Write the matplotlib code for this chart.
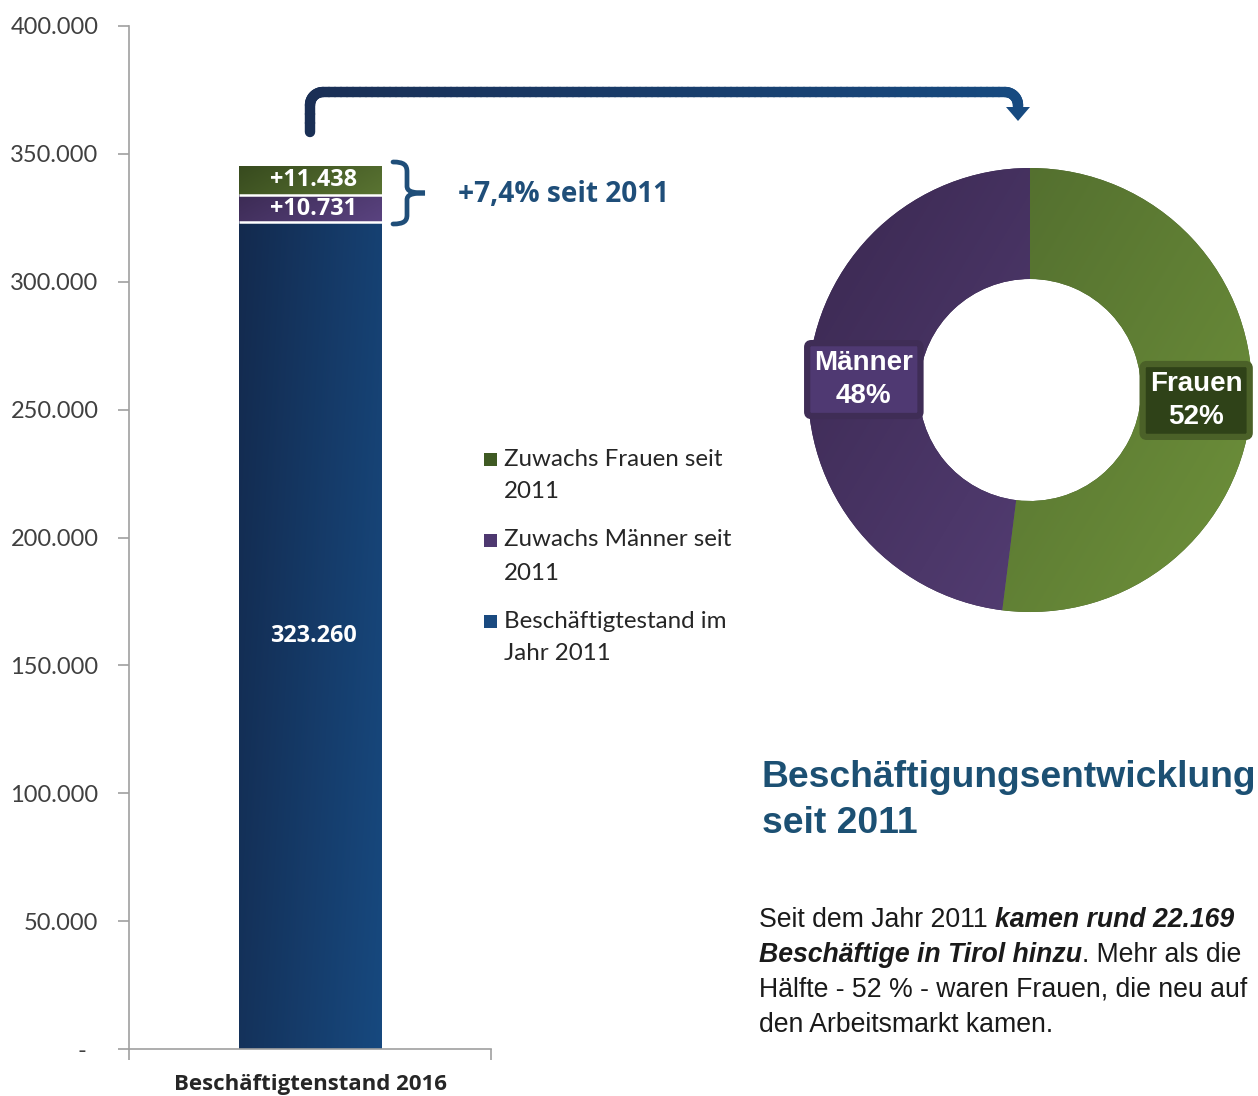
import numpy as np
import matplotlib.pyplot as plt
from matplotlib.path import Path
from matplotlib.patches import PathPatch, Rectangle
from matplotlib.collections import LineCollection
from matplotlib.colors import to_rgb

W, H = 1258, 1096

# daten
bar_category = "Beschäftigtenstand 2016"
bar_labels = ["Beschäftigtestand im\nJahr 2011", "Zuwachs Männer seit\n2011", "Zuwachs Frauen seit\n2011"]
bar_values = [323260, 10731, 11438]
bar_texts = ["323.260", "+10.731", "+11.438"]
yticks = [0, 50000, 100000, 150000, 200000, 250000, 300000, 350000, 400000]

pie_labels = ["Frauen", "Männer"]
pie_values = [52, 48]

growth_text = "+7,4% seit 2011"
title = "Beschäftigungsentwicklung\nseit 2011"
body = [
    [("Seit dem Jahr 2011 ", "normal"), ("kamen rund 22.169", "bi")],
    [("Beschäftige in Tirol hinzu", "bi"), (". Mehr als die", "normal")],
    [("Hälfte - 52 % - waren Frauen, die neu auf", "normal")],
    [("den Arbeitsmarkt kamen.", "normal")],
]

# farben (dunkel -> hell)
bar_cols = [("#132a4e", "#17497f"), ("#3c2b54", "#5a4380"), ("#374a1e", "#5a7432")]
legend_cols = ["#1a4a80", "#4e3870", "#3f5a23"]
pie_cols = [("#48612a", "#6f923b"), ("#3a2850", "#5e4682")]


def frac(x, y):
    return x / W, 1 - y / H


def gradient(ax, patch, c1, c2, extent, wx=1.0, wy=0.0, z=2):
    n = 200
    xx, yy = np.meshgrid(np.linspace(0, 1, n), np.linspace(0, 1, n))
    t = (wx * xx + wy * yy) / (abs(wx) + abs(wy))
    t = t - t.min()
    t = t / t.max()
    a, b = np.array(to_rgb(c1)), np.array(to_rgb(c2))
    rgb = a + (b - a) * t[..., None]
    im = ax.imshow(rgb, extent=extent, origin="lower", aspect="auto", zorder=z, interpolation="bilinear")
    im.set_clip_path(patch)
    return im


fig = plt.figure(figsize=(W / 100, H / 100), dpi=100)

# ---------- balken ----------
x0, y0 = frac(129, 1049)
x1, y1 = frac(491, 26)
ax = fig.add_axes([x0, y0, x1 - x0, y1 - y0])
bw = 143 / 362
bottoms = np.concatenate([[0], np.cumsum(bar_values)[:-1]])
bars = ax.bar([0] * len(bar_values), bar_values, bw, bottom=bottoms,
              color=[c[0] for c in bar_cols], zorder=2)
for p, (c1, c2) in zip(bars.patches, bar_cols):
    bx, by = p.get_x(), p.get_y()
    gradient(ax, p, c1, c2, (bx, bx + p.get_width(), by, by + p.get_height()), wx=1.0, wy=-0.35, z=2.5)
# weisse trennlinien
ax.hlines(np.cumsum(bar_values)[:-1], -bw / 2, bw / 2, color="white", lw=1.8, zorder=4)
for v, b, txt in zip(bar_values, bottoms, bar_texts):
    ax.text(0.01, b + v / 2, txt, ha="center", va="center", color="white",
            fontsize=16.8, fontweight="bold", family="Open Sans", zorder=5)

ax.set_xlim(-0.5, 0.5)
ax.set_ylim(0, 400000)
ax.set_yticks(yticks)
ax.set_yticklabels(["-  "] + [f"{v:,}".replace(",", ".") for v in yticks[1:]],
                   family="Lato", fontsize=17, color="#404040")
ax.tick_params(axis="y", length=8, pad=14, color="#a0a0a0", width=1.2)
ax.set_xticks([-0.5, 0.5])
ax.set_xticklabels(["", ""])
ax.tick_params(axis="x", which="major", length=8, color="#a0a0a0", width=1.2)
ax.set_xticks([0], minor=True)
ax.set_xticklabels([bar_category], minor=True, family="Open Sans", fontweight="bold",
                   fontsize=16, color="#262626")
ax.tick_params(axis="x", which="minor", length=0, pad=18)
for s in ["top", "right"]:
    ax.spines[s].set_visible(False)
for s in ["left", "bottom"]:
    ax.spines[s].set_color("#a0a0a0")
    ax.spines[s].set_linewidth(1.2)

# ---------- ring ----------
cx, cy, R = 1030, 390, 222
half = 240
px0, py0 = frac(cx - half, cy + half)
ax2 = fig.add_axes([px0, py0, 2 * half / W, 2 * half / H])
wedges, _ = ax2.pie(pie_values, startangle=90, counterclock=False, radius=1,
                    colors=[c[0] for c in pie_cols], wedgeprops=dict(width=0.5, linewidth=0))
for wdg, (c1, c2) in zip(wedges, pie_cols):
    gradient(ax2, wdg, c1, c2, (-1, 1, -1, 1), wx=1.0, wy=-0.6, z=3)
lim = half / R
ax2.set_xlim(-lim, lim)
ax2.set_ylim(-lim, lim)
ax2.set_aspect("equal")
ax2.axis("off")

box_style = [dict(fc="#2f4218", ec="#4b6128"), dict(fc="#4f3972", ec="#3f2d56")]
for wdg, lab, v, bs in zip(wedges, pie_labels, pie_values, box_style):
    ang = np.deg2rad((wdg.theta1 + wdg.theta2) / 2)
    ax2.text(0.75 * np.cos(ang), 0.75 * np.sin(ang), f"{lab}\n{v}%", ha="center", va="center",
             color="white", fontsize=20, fontweight="bold", family="Liberation Sans",
             linespacing=1.32, zorder=6,
             bbox=dict(boxstyle="round,pad=0.26,rounding_size=0.15", lw=4.5, **bs))

# ---------- overlay ----------
ov = fig.add_axes([0, 0, 1, 1], zorder=10)
ov.set_xlim(0, W)
ov.set_ylim(H, 0)
ov.axis("off")
ov.patch.set_alpha(0)

# pfeil
r = 13
pts = [(310, 132), (310, 92 + r)]
for a in np.linspace(np.pi, 1.5 * np.pi, 12)[1:]:
    pts.append((310 + r + r * np.cos(a), 92 + r + r * np.sin(a)))
pts.append((1018 - r, 92))
for a in np.linspace(1.5 * np.pi, 2 * np.pi, 12)[1:]:
    pts.append((1018 - r + r * np.cos(a), 92 + r + r * np.sin(a)))
pts.append((1018, 109))
pts = np.array(pts)
dense = [pts[0]]
for p, q in zip(pts[:-1], pts[1:]):
    k = max(2, int(np.hypot(*(q - p)) / 6))
    for t in np.linspace(0, 1, k)[1:]:
        dense.append(p + (q - p) * t)
dense = np.array(dense)
segs = np.stack([dense[:-1], dense[1:]], axis=1)
ca, cb = np.array(to_rgb("#1a2f55")), np.array(to_rgb("#174a80"))
tt = (segs[:, 0, 0] - 310) / (1018 - 310)
lc = LineCollection(segs, colors=ca + (cb - ca) * tt[:, None], linewidths=7.5, capstyle="round")
ov.add_collection(lc)
ov.add_patch(plt.Polygon([(1006, 107), (1030, 107), (1018, 121)], closed=True, color="#174a80", lw=0))

# klammer
verts = [(393, 162), (404, 162), (407, 165), (407, 172),
         (407, 186),
         (407, 191), (411, 193), (425, 193),
         (411, 193), (407, 195), (407, 200),
         (407, 215),
         (407, 221), (404, 224), (393, 224)]
codes = [Path.MOVETO, Path.CURVE4, Path.CURVE4, Path.CURVE4,
         Path.LINETO,
         Path.CURVE4, Path.CURVE4, Path.CURVE4,
         Path.CURVE4, Path.CURVE4, Path.CURVE4,
         Path.LINETO,
         Path.CURVE4, Path.CURVE4, Path.CURVE4]
ov.add_patch(PathPatch(Path(verts, codes), fc="none", ec="#1f4e79", lw=3.4, capstyle="round"))
ov.text(458, 194, growth_text, ha="left", va="center", fontsize=20.2, fontweight="bold",
        family="Open Sans", color="#1f4e79")

# legende
for i, (lab, col) in enumerate(zip(bar_labels[::-1], legend_cols[::-1])):
    ly = 459 + 81 * i
    ov.add_patch(Rectangle((484, ly - 6.5), 13, 13, color=col, lw=0))
    for j, line in enumerate(lab.split("\n")):
        ov.text(504, ly + 33 * j, line, ha="left", va="center", fontsize=17.4,
                family="Lato", color="#262626")

# titel
for j, line in enumerate(title.split("\n")):
    ov.text(762, 787 + 46 * j, line, ha="left", va="baseline", fontsize=26.8,
            fontweight="bold", family="Liberation Sans", color="#1c5073")

# fliesstext
for j, parts in enumerate(body):
    prev = None
    for txt, st in parts:
        kw = dict(fontsize=19.2, family="Liberation Sans", color="#1a1a1a")
        if st == "bi":
            kw.update(fontweight="bold", fontstyle="italic")
        if prev is None:
            prev = ov.text(759, 927 + 35 * j, txt, ha="left", va="baseline", **kw)
        else:
            prev = ov.annotate(txt, xy=(1, 0), xycoords=prev, ha="left", va="bottom", **kw)

fig.savefig("out.png", dpi=100)
